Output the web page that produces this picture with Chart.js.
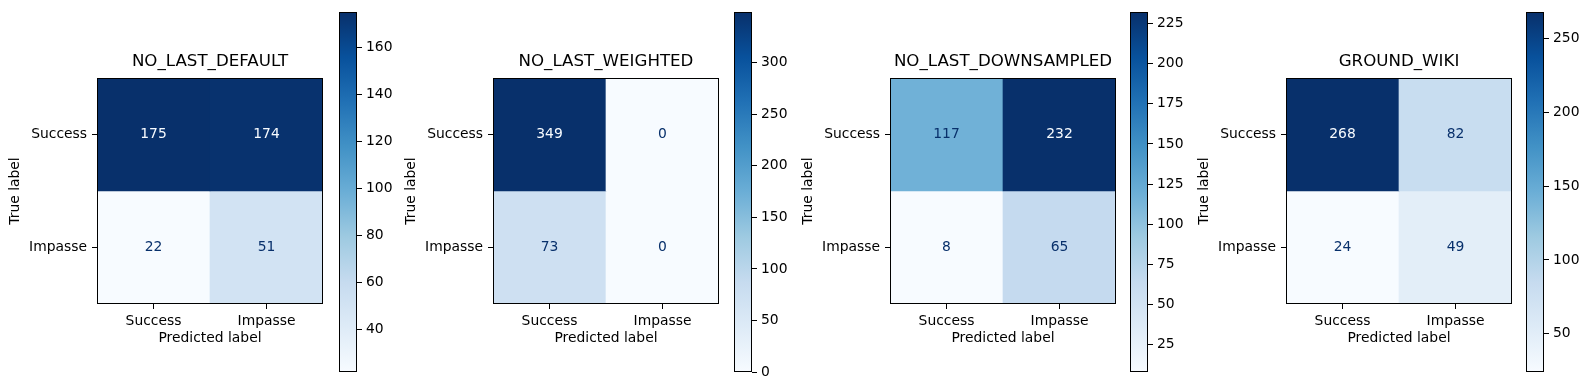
<!DOCTYPE html>
<html>
<head>
<meta charset="utf-8">
<script src="https://cdn.jsdelivr.net/npm/chart.js@4.4.1/dist/chart.umd.min.js"></script>
<style>
  body { margin: 0; background: #fff; width: 1590px; height: 390px; overflow: hidden; position: relative; }
  canvas { position: absolute; top: 0; }
</style>
</head>
<body>
<script>
// confusion matrices, rows = true label, columns = predicted label
const categories = ['Success', 'Impasse'];
const titles = ['NO_LAST_DEFAULT', 'NO_LAST_WEIGHTED', 'NO_LAST_DOWNSAMPLED', 'GROUND_WIKI'];
const noLastDefault = [[175, 174], [22, 51]];
const noLastWeighted = [[349, 0], [73, 0]];
const noLastDownsampled = [[117, 232], [8, 65]];
const groundWiki = [[268, 82], [24, 49]];
// colorbar tick labels
const ticksDefault = [40, 60, 80, 100, 120, 140, 160];
const ticksWeighted = [0, 50, 100, 150, 200, 250, 300];
const ticksDownsampled = [25, 50, 75, 100, 125, 150, 175, 200, 225];
const ticksWiki = [50, 100, 150, 200, 250];

const matrices = [noLastDefault, noLastWeighted, noLastDownsampled, groundWiki];
const cbTicks = [ticksDefault, ticksWeighted, ticksDownsampled, ticksWiki];

// layout (pixels)
const boxLefts = [97, 493, 890, 1286];
const cbLefts = [339, 734, 1130, 1526];

const BLUES = ['#f7fbff', '#deebf7', '#c6dbef', '#9ecae1', '#6baed6', '#4292c6', '#2171b5', '#08519c', '#08306b'];

function hexRgb(h) {
  return [parseInt(h.substr(1, 2), 16), parseInt(h.substr(3, 2), 16), parseInt(h.substr(5, 2), 16)];
}

function blues(t) {
  t = Math.max(0, Math.min(1, t));
  const p = t * (BLUES.length - 1);
  const i = Math.min(Math.floor(p), BLUES.length - 2);
  const f = p - i;
  const a = hexRgb(BLUES[i]), b = hexRgb(BLUES[i + 1]);
  const c = a.map((v, k) => Math.round(v + (b[k] - v) * f));
  return 'rgb(' + c.join(',') + ')';
}

Chart.defaults.font.family = 'DejaVu Sans';
Chart.defaults.font.size = 13.89;
Chart.defaults.color = '#000';

const framePlugin = {
  id: 'frame',
  afterDatasetsDraw(chart) {
    const a = chart.chartArea, ctx = chart.ctx;
    ctx.save();
    ctx.strokeStyle = '#000';
    ctx.lineWidth = 1;
    ctx.strokeRect(Math.round(a.left) + 0.5, Math.round(a.top) + 0.5,
      Math.round(a.right - a.left) - 1, Math.round(a.bottom - a.top) - 1);
    ctx.restore();
  }
};

const cellLabels = {
  id: 'cellLabels',
  afterDatasetsDraw(chart) {
    const ctx = chart.ctx;
    const thresh = chart.options.plugins.cellLabels.thresh;
    ctx.save();
    ctx.font = '13.89px "DejaVu Sans"';
    ctx.textAlign = 'center';
    ctx.textBaseline = 'middle';
    chart.data.datasets.forEach((ds, i) => {
      chart.getDatasetMeta(i).data.forEach((el, j) => {
        const v = ds.counts[j];
        ctx.fillStyle = v < thresh ? BLUES[8] : BLUES[0];
        ctx.fillText(String(v), el.x, (el.y + el.base) / 2);
      });
    });
    ctx.restore();
  }
};

function addCanvas(left, width) {
  const c = document.createElement('canvas');
  c.width = width;
  c.height = 390;
  c.style.left = left + 'px';
  document.body.appendChild(c);
  return c;
}

function makeMatrix(canvas, title, matrix) {
  const flat = matrix.flat();
  const vmin = Math.min(...flat), vmax = Math.max(...flat);
  const n = categories.length;
  new Chart(canvas, {
    type: 'bar',
    data: {
      labels: categories,
      datasets: matrix.map((row, r) => ({
        data: row.map(() => [n - 1 - r, n - r]),
        counts: row,
        backgroundColor: row.map(v => blues((v - vmin) / (vmax - vmin))),
        grouped: false,
        barPercentage: 1,
        categoryPercentage: 1,
        borderWidth: 0
      }))
    },
    options: {
      responsive: false,
      animation: false,
      layout: { padding: { left: 5, right: 5, top: 52, bottom: 43 } },
      plugins: {
        legend: { display: false },
        tooltip: { enabled: false },
        title: { display: true, text: title, color: '#000', font: { size: 16.67, weight: 'normal' }, padding: { top: 0, bottom: 6 } },
        cellLabels: { thresh: (vmin + vmax) / 2 }
      },
      scales: {
        x: {
          offset: true,
          grid: { offset: false, drawOnChartArea: false, tickLength: 5, color: '#000' },
          border: { display: false },
          ticks: { padding: 4, font: { size: 13.89 } },
          title: { display: true, text: 'Predicted label', padding: { top: 0, bottom: 0 } },
          afterFit(s) { s.height = 43; }
        },
        y: {
          type: 'linear',
          min: 0,
          max: n,
          afterBuildTicks(s) { s.ticks = categories.map((c, i) => ({ value: n - i - 0.5 })); },
          ticks: { padding: 5, font: { size: 13.89 }, callback: v => categories[Math.floor(n - v)] },
          grid: { drawOnChartArea: false, tickLength: 5, color: '#000' },
          border: { display: false },
          title: { display: true, text: 'True label', padding: { top: 2, bottom: 0 } },
          afterFit(s) { s.width = 92; }
        },
        // empty spacer on the right so the title centres over the matrix
        spacer: {
          type: 'linear',
          position: 'right',
          ticks: { display: false },
          grid: { display: false },
          border: { display: false },
          afterFit(s) { s.width = 92; }
        }
      }
    },
    plugins: [framePlugin, cellLabels]
  });
}

function makeColorbar(canvas, matrix, ticks) {
  const flat = matrix.flat();
  const vmin = Math.min(...flat), vmax = Math.max(...flat);
  new Chart(canvas, {
    type: 'bar',
    data: {
      labels: [''],
      datasets: [{
        data: [[vmin, vmax]],
        backgroundColor(ctx) {
          const a = ctx.chart.chartArea;
          if (!a) return BLUES[0];
          const g = ctx.chart.ctx.createLinearGradient(0, a.bottom, 0, a.top);
          BLUES.forEach((c, i) => g.addColorStop(i / (BLUES.length - 1), c));
          return g;
        },
        barPercentage: 1,
        categoryPercentage: 1,
        borderWidth: 0
      }]
    },
    options: {
      responsive: false,
      animation: false,
      layout: { padding: { left: 2, right: 0, top: 10, bottom: 18 } },
      plugins: { legend: { display: false }, tooltip: { enabled: false } },
      scales: {
        x: { display: false },
        y: {
          position: 'right',
          min: vmin,
          max: vmax,
          afterBuildTicks(s) { s.ticks = ticks.map(v => ({ value: v })); },
          grid: { drawOnChartArea: false, tickLength: 5, color: '#000' },
          border: { display: false },
          ticks: { padding: 4, font: { size: 13.89 } },
          afterFit(s) { s.width = 50; }
        }
      }
    },
    plugins: [framePlugin]
  });
}

matrices.forEach((m, i) => {
  makeMatrix(addCanvas(boxLefts[i] - 97, 420), titles[i], m);
  makeColorbar(addCanvas(cbLefts[i] - 2, 70), m, cbTicks[i]);
});
</script>
</body>
</html>
